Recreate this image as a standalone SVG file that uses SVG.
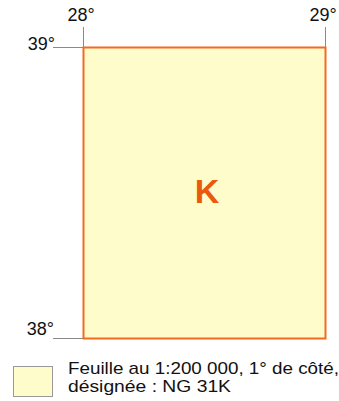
<svg xmlns="http://www.w3.org/2000/svg" width="339" height="401" viewBox="0 0 339 401">
  <style>
    .deg { font-family: "Liberation Sans", Arial, sans-serif; font-size: 18px; fill: #111; }
    .tick { stroke: #8a8a8a; stroke-width: 1; fill: none; }
    .leg { font-family: "Liberation Sans", Arial, sans-serif; font-size: 17px; fill: #111; }
  </style>
  <rect width="339" height="401" fill="#ffffff"/>
  <g id="connectors">
    <line class="tick" x1="83.5" y1="27" x2="83.5" y2="47"/>
    <line class="tick" x1="325.5" y1="27" x2="325.5" y2="47"/>
    <line class="tick" x1="53" y1="47.5" x2="83" y2="47.5"/>
    <line class="tick" x1="53" y1="338.5" x2="83" y2="338.5"/>
  </g>
  <g id="sheet">
    <rect x="83.5" y="47.5" width="242" height="291" fill="#fffccc" stroke="#f26b21" stroke-width="2"/>
    <text x="207" y="203" text-anchor="middle" font-family="'Liberation Sans', Arial, sans-serif" font-size="34" font-weight="bold" fill="#ea5a0c">K</text>
  </g>
  <g id="labels">
    <text class="deg" x="81" y="21" text-anchor="middle">28°</text>
    <text class="deg" x="323" y="21" text-anchor="middle">29°</text>
    <text class="deg" x="55" y="50" text-anchor="end">39°</text>
    <text class="deg" x="54" y="335" text-anchor="end">38°</text>
  </g>
  <g id="legend">
    <rect x="13.5" y="366.5" width="39" height="30" fill="#fffccc" stroke="#999999" stroke-width="1"/>
    <text class="leg" x="68" y="374" textLength="271" lengthAdjust="spacingAndGlyphs">Feuille au 1:200 000, 1° de côté,</text>
    <text class="leg" x="68" y="392" textLength="163" lengthAdjust="spacingAndGlyphs">désignée : NG 31K</text>
  </g>
</svg>
